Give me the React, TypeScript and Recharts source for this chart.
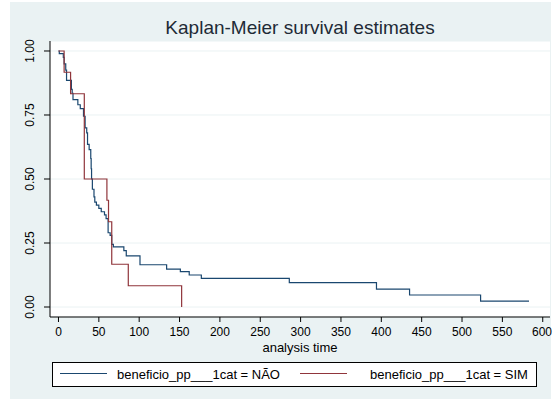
import React from 'react';
import { LineChart, Line, XAxis, YAxis, CartesianGrid } from 'recharts';

// Group "NÃO" (blue)
const naoTimes = [0, 1, 6, 7, 9, 10, 16, 17, 18, 24, 27, 31, 33, 35, 36, 38, 40, 40.5, 41, 42, 44, 45, 47, 50, 53, 57, 59, 61.5, 64, 66, 68, 81, 84, 101, 134, 151, 162, 177, 286, 394, 435, 523, 583];
const naoSurv = [1.0, 0.99, 0.975, 0.95, 0.925, 0.885, 0.85, 0.835, 0.81, 0.79, 0.775, 0.745, 0.7, 0.68, 0.635, 0.615, 0.58, 0.54, 0.5, 0.46, 0.43, 0.41, 0.398, 0.385, 0.372, 0.36, 0.345, 0.29, 0.28, 0.245, 0.235, 0.22, 0.2, 0.165, 0.148, 0.138, 0.125, 0.112, 0.095, 0.07, 0.047, 0.023, 0.023];

// Group "SIM" (red)
const simTimes = [0, 7, 15, 32, 60, 62, 66, 86.5, 152.6];
const simSurv = [1.0, 0.917, 0.833, 0.5, 0.417, 0.333, 0.167, 0.083, 0.0];

const xTicks = [0, 50, 100, 150, 200, 250, 300, 350, 400, 450, 500, 550, 600];
const yTicks = [0, 0.25, 0.5, 0.75, 1];

const seriesNames = ['beneficio_pp___1cat = NÃO', 'beneficio_pp___1cat = SIM'];
const seriesColors = ['#1a476f', '#90353b'];
const title = 'Kaplan-Meier survival estimates';
const xTitle = 'analysis time';

const naoData = naoTimes.map((t, i) => ({ t, s: naoSurv[i] }));
const simData = simTimes.map((t, i) => ({ t, s: simSurv[i] }));

const FONT = '"Liberation Sans", Arial, sans-serif';

const YTick = (props: any) => {
  const { x, y, payload } = props;
  const lx = x - 8;
  return (
    <text x={lx} y={y} transform={`rotate(-90, ${lx}, ${y})`} textAnchor="middle" fontSize={12} fill="#000" fontFamily={FONT}>
      {Number(payload.value).toFixed(2)}
    </text>
  );
};

const XTick = (props: any) => {
  const { x, y, payload } = props;
  return (
    <text x={x} y={y + 12} textAnchor="middle" fontSize={12} fill="#000" fontFamily={FONT}>
      {payload.value}
    </text>
  );
};

export default function App() {
  return (
    <div style={{ position: 'absolute', left: 0, top: 0, width: 554, height: 399, background: '#ffffff', fontFamily: FONT }}>
      <div style={{ position: 'absolute', left: 10, top: 2, width: 541, height: 397, background: '#eaf2f3' }} />
      <LineChart
        width={554}
        height={399}
        data={naoData}
        margin={{ top: 41, right: 4, bottom: 52, left: 10 }}
        style={{ position: 'absolute', left: 0, top: 0 }}
      >
        <CartesianGrid vertical={false} stroke="#eaf2f3" fill="#ffffff" fillOpacity={1} />
        <XAxis
          type="number"
          dataKey="t"
          domain={[-10.5, 609]}
          ticks={xTicks}
          allowDataOverflow
          height={30}
          tickSize={5}
          tick={<XTick />}
          axisLine={{ stroke: '#000' }}
          tickLine={{ stroke: '#000' }}
        />
        <YAxis
          type="number"
          dataKey="s"
          domain={[-0.039, 1.039]}
          ticks={yTicks}
          allowDataOverflow
          width={40}
          tickSize={6}
          tick={<YTick />}
          axisLine={{ stroke: '#000' }}
          tickLine={{ stroke: '#000' }}
        />
        <Line data={naoData} dataKey="s" type="stepAfter" stroke={seriesColors[0]} strokeWidth={1.2} dot={false} isAnimationActive={false} />
        <Line data={simData} dataKey="s" type="stepAfter" stroke={seriesColors[1]} strokeWidth={1.2} dot={false} isAnimationActive={false} />
      </LineChart>
      <div style={{ position: 'absolute', left: 50, width: 500, top: 17, textAlign: 'center', fontSize: 19, color: '#1e2a36', lineHeight: '22px' }}>
        {title}
      </div>
      <div style={{ position: 'absolute', left: 50, width: 500, top: 340, textAlign: 'center', fontSize: 13, color: '#000', lineHeight: '15px' }}>
        {xTitle}
      </div>
      <div style={{ position: 'absolute', left: 52, top: 362, width: 483, height: 23, background: '#fff', border: '1px solid #000' }}>
        <div style={{ position: 'absolute', left: 7, top: 10, width: 47, height: 0, borderTop: `1px solid ${seriesColors[0]}` }} />
        <div style={{ position: 'absolute', left: 64, top: 4, fontSize: 13, lineHeight: '15px', color: '#000', whiteSpace: 'nowrap' }}>{seriesNames[0]}</div>
        <div style={{ position: 'absolute', left: 247, top: 10, width: 47, height: 0, borderTop: `1px solid ${seriesColors[1]}` }} />
        <div style={{ position: 'absolute', left: 317, top: 4, fontSize: 13, lineHeight: '15px', color: '#000', whiteSpace: 'nowrap' }}>{seriesNames[1]}</div>
      </div>
    </div>
  );
}
